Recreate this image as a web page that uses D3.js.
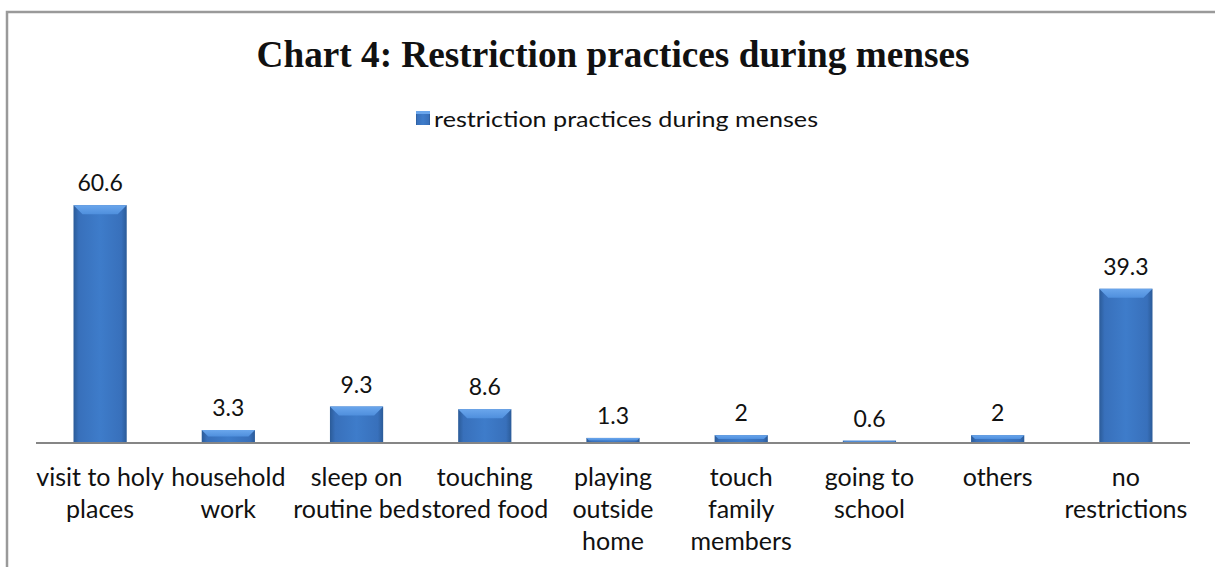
<!DOCTYPE html>
<html>
<head>
<meta charset="utf-8">
<script src="https://cdn.jsdelivr.net/npm/d3@7"></script>
<style>
body { margin: 0; background: #fff; }
svg { display: block; }
text { font-family: Lato, "Open Sans", sans-serif; fill: #111; }
</style>
</head>
<body>
<div id="chart"></div>
<script>
// data
var categories = [
  ["visit to holy", "places"],
  ["household", "work"],
  ["sleep on", "routine bed"],
  ["touching", "stored food"],
  ["playing", "outside", "home"],
  ["touch", "family", "members"],
  ["going to", "school"],
  ["others"],
  ["no", "restrictions"]
];
var values = [60.6, 3.3, 9.3, 8.6, 1.3, 2, 0.6, 2, 39.3];
var seriesName = "restriction practices during menses";
var title = "Chart 4: Restriction practices during menses";

var width = 1215, height = 567;
var svg = d3.select("#chart").append("svg")
  .attr("width", width).attr("height", height);

// frame
svg.append("rect")
  .attr("x", 7).attr("y", 12)
  .attr("width", 1300).attr("height", 700)
  .attr("fill", "none").attr("stroke", "#9a9a9a").attr("stroke-width", 2.5);

var defs = svg.append("defs");
var g1 = defs.append("linearGradient").attr("id", "barGrad")
  .attr("x1", "0%").attr("x2", "100%").attr("y1", "0%").attr("y2", "0%");
g1.append("stop").attr("offset", "0%").attr("stop-color", "#2b5b98");
g1.append("stop").attr("offset", "10%").attr("stop-color", "#3870bb");
g1.append("stop").attr("offset", "50%").attr("stop-color", "#3e7cca");
g1.append("stop").attr("offset", "90%").attr("stop-color", "#3870bb");
g1.append("stop").attr("offset", "100%").attr("stop-color", "#2b5b98");
var g2 = defs.append("linearGradient").attr("id", "topGrad")
  .attr("x1", "0%").attr("x2", "0%").attr("y1", "0%").attr("y2", "100%");
g2.append("stop").attr("offset", "0%").attr("stop-color", "#6aa6ec");
g2.append("stop").attr("offset", "100%").attr("stop-color", "#4f8fdd");

var x = d3.scaleBand()
  .domain(d3.range(values.length))
  .range([36, 1190])
  .paddingInner(0.585)
  .paddingOuter(0.2925);

var y = d3.scaleLinear().domain([0, 70]).range([443, 168.3]);

// title
svg.append("text")
  .attr("x", 613).attr("y", 67)
  .attr("text-anchor", "middle")
  .style("font-family", "'Liberation Serif', 'DejaVu Serif', serif")
  .style("font-weight", "bold")
  .style("font-size", "37px")
  .attr("textLength", 713).attr("lengthAdjust", "spacingAndGlyphs")
  .text(title);

// legend
var leg = svg.append("g");
leg.append("rect").attr("x", 416).attr("y", 111).attr("width", 14).attr("height", 14)
  .attr("fill", "url(#barGrad)");
leg.append("rect").attr("x", 416).attr("y", 111).attr("width", 14).attr("height", 3)
  .attr("fill", "#6aa6ec");
leg.append("text").attr("x", 434).attr("y", 127)
  .style("font-size", "22px")
  .attr("textLength", 384).attr("lengthAdjust", "spacingAndGlyphs")
  .text(seriesName);

// bars
var bars = svg.append("g").selectAll("g").data(values).enter().append("g");

bars.append("rect")
  .attr("x", function(d, i) { return x(i); })
  .attr("y", function(d) { return y(d); })
  .attr("width", x.bandwidth())
  .attr("height", function(d) { return y(0) - y(d); })
  .attr("fill", "url(#barGrad)");

// bevel on top
bars.append("path")
  .attr("d", function(d, i) {
    var x0 = x(i), x1 = x(i) + x.bandwidth(), t = y(d);
    var h = Math.min(9, (y(0) - t) / 2);
    return "M" + x0 + "," + t + "L" + x1 + "," + t +
      "L" + (x1 - h) + "," + (t + h) + "L" + (x0 + h) + "," + (t + h) + "Z";
  })
  .attr("fill", "url(#topGrad)");

// value labels
bars.append("text")
  .attr("x", function(d, i) { return x(i) + x.bandwidth() / 2; })
  .attr("y", function(d) { return y(d) - 14; })
  .attr("text-anchor", "middle")
  .style("font-size", "23px")
  .text(function(d) { return d; });

// axis line
svg.append("line")
  .attr("x1", 36).attr("x2", 1190)
  .attr("y1", y(0)).attr("y2", y(0))
  .attr("stroke", "#868686").attr("stroke-width", 2);

// category labels
svg.append("g").selectAll("text").data(categories).enter().append("text")
  .attr("text-anchor", "middle")
  .style("font-size", "25px")
  .each(function(lines, i) {
    var t = d3.select(this);
    lines.forEach(function(l, k) {
      t.append("tspan")
        .attr("x", x(i) + x.bandwidth() / 2)
        .attr("y", 486 + k * 32)
        .text(l);
    });
  });
</script>
</body>
</html>
